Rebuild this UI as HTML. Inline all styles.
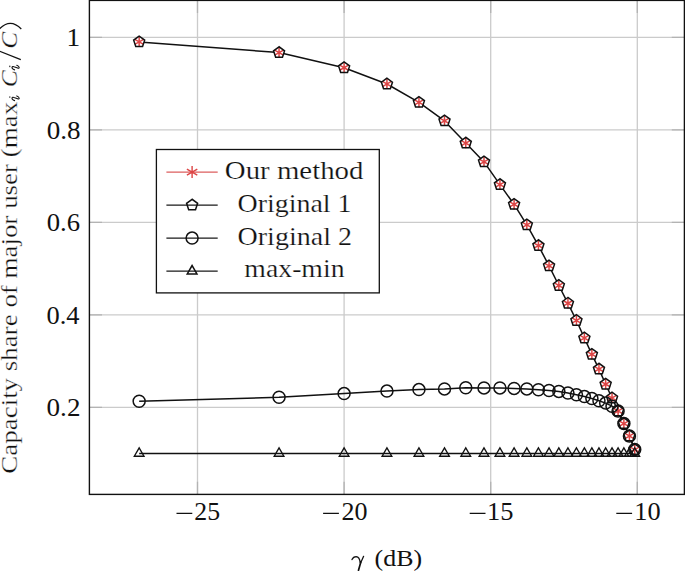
<!DOCTYPE html>
<html><head><meta charset="utf-8"><style>
html,body{margin:0;padding:0;background:#fff;width:685px;height:571px;overflow:hidden}
svg{display:block;font-family:"Liberation Serif",serif}
</style></head><body>
<svg width="685" height="571" viewBox="0 0 685 571">
<rect x="0" y="0" width="685" height="571" fill="#fff"/>
<path d="M197.50,0.4V494.4M344.10,0.4V494.4M490.70,0.4V494.4M637.30,0.4V494.4M89.4,407.40H684.4M89.4,314.90H684.4M89.4,222.40H684.4M89.4,129.90H684.4M89.4,37.40H684.4" stroke="#cbcbcb" stroke-width="1.3" fill="none"/>
<path d="M197.50,494.4v-12.6M197.50,0.4v12.6M344.10,494.4v-12.6M344.10,0.4v12.6M490.70,494.4v-12.6M490.70,0.4v12.6M637.30,494.4v-12.6M637.30,0.4v12.6M89.4,407.40h12.6M684.4,407.40h-12.6M89.4,314.90h12.6M684.4,314.90h-12.6M89.4,222.40h12.6M684.4,222.40h-12.6M89.4,129.90h12.6M684.4,129.90h-12.6M89.4,37.40h12.6M684.4,37.40h-12.6" stroke="#b3b3b3" stroke-width="1.3" fill="none"/>
<polyline points="139.16,41.90 279.05,52.60 344.10,67.70 386.94,84.00 418.95,102.40 444.50,120.90 465.77,143.10 483.99,161.90 499.93,184.60 514.09,204.40 526.84,224.90 538.42,245.60 549.04,265.90 558.84,285.50 567.94,303.30 576.43,320.50 584.39,338.00 591.88,354.40 598.96,369.10 605.66,384.20 612.03,398.00 618.09,411.00 623.88,423.60 629.42,436.00 634.73,449.60" fill="none" stroke="#111" stroke-width="1.5" stroke-linejoin="round"/>
<polyline points="139.16,401.30 279.05,397.30 344.10,393.60 386.94,391.10 418.95,389.60 444.50,388.90 465.77,387.70 483.99,387.90 499.93,387.90 514.09,388.40 526.84,388.90 538.42,389.70 549.04,390.50 558.84,391.40 567.94,393.00 576.43,394.70 584.39,396.60 591.88,398.50 598.96,400.70 605.66,403.10 612.03,406.20 618.09,411.00 623.88,423.60 629.42,436.00 634.73,449.60" fill="none" stroke="#111" stroke-width="1.5" stroke-linejoin="round"/>
<polyline points="139.16,453.40 279.05,453.40 344.10,453.40 386.94,453.40 418.95,453.40 444.50,453.40 465.77,453.40 483.99,453.40 499.93,453.40 514.09,453.40 526.84,453.40 538.42,453.40 549.04,453.40 558.84,453.40 567.94,453.40 576.43,453.40 584.39,453.40 591.88,453.40 598.96,453.40 605.66,453.40 612.03,453.40 618.09,453.40 623.88,453.40 629.42,453.40 634.73,453.40" fill="none" stroke="#111" stroke-width="1.5" stroke-linejoin="round"/>
<g fill="#fff" stroke="none"><polygon points="139.16,36.10 133.65,40.11 135.75,46.59 142.57,46.59 144.68,40.11"/><polygon points="279.05,46.80 273.54,50.81 275.64,57.29 282.46,57.29 284.57,50.81"/><polygon points="344.10,61.90 338.58,65.91 340.69,72.39 347.51,72.39 349.62,65.91"/><polygon points="386.94,78.20 381.43,82.21 383.54,88.69 390.35,88.69 392.46,82.21"/><polygon points="418.95,96.60 413.43,100.61 415.54,107.09 422.36,107.09 424.46,100.61"/><polygon points="444.50,115.10 438.98,119.11 441.09,125.59 447.91,125.59 450.01,119.11"/><polygon points="465.77,137.30 460.25,141.31 462.36,147.79 469.18,147.79 471.29,141.31"/><polygon points="483.99,156.10 478.48,160.11 480.58,166.59 487.40,166.59 489.51,160.11"/><polygon points="499.93,178.80 494.41,182.81 496.52,189.29 503.34,189.29 505.45,182.81"/><polygon points="514.09,198.60 508.58,202.61 510.68,209.09 517.50,209.09 519.61,202.61"/><polygon points="526.84,219.10 521.32,223.11 523.43,229.59 530.25,229.59 532.35,223.11"/><polygon points="538.42,239.80 532.90,243.81 535.01,250.29 541.83,250.29 543.94,243.81"/><polygon points="549.04,260.10 543.52,264.11 545.63,270.59 552.45,270.59 554.55,264.11"/><polygon points="558.84,279.70 553.32,283.71 555.43,290.19 562.25,290.19 564.35,283.71"/><polygon points="567.94,297.50 562.42,301.51 564.53,307.99 571.35,307.99 573.45,301.51"/><polygon points="576.43,314.70 570.91,318.71 573.02,325.19 579.84,325.19 581.95,318.71"/><polygon points="584.39,332.20 578.87,336.21 580.98,342.69 587.80,342.69 589.91,336.21"/><polygon points="591.88,348.60 586.37,352.61 588.47,359.09 595.29,359.09 597.40,352.61"/><polygon points="598.96,363.30 593.44,367.31 595.55,373.79 602.37,373.79 604.47,367.31"/><polygon points="605.66,378.40 600.15,382.41 602.25,388.89 609.07,388.89 611.18,382.41"/><polygon points="612.03,392.20 606.51,396.21 608.62,402.69 615.44,402.69 617.55,396.21"/><polygon points="618.09,405.20 612.58,409.21 614.69,415.69 621.50,415.69 623.61,409.21"/><polygon points="623.88,417.80 618.37,421.81 620.47,428.29 627.29,428.29 629.40,421.81"/><polygon points="629.42,430.20 623.90,434.21 626.01,440.69 632.83,440.69 634.94,434.21"/><polygon points="634.73,443.80 629.21,447.81 631.32,454.29 638.14,454.29 640.24,447.81"/></g>
<path d="M139.16,47.00L139.16,36.80M134.75,44.45L143.58,39.35M143.58,44.45L134.75,39.35M279.05,57.70L279.05,47.50M274.64,55.15L283.47,50.05M283.47,55.15L274.64,50.05M344.10,72.80L344.10,62.60M339.68,70.25L348.52,65.15M348.52,70.25L339.68,65.15M386.94,89.10L386.94,78.90M382.53,86.55L391.36,81.45M391.36,86.55L382.53,81.45M418.95,107.50L418.95,97.30M414.53,104.95L423.36,99.85M423.36,104.95L414.53,99.85M444.50,126.00L444.50,115.80M440.08,123.45L448.92,118.35M448.92,123.45L440.08,118.35M465.77,148.20L465.77,138.00M461.35,145.65L470.19,140.55M470.19,145.65L461.35,140.55M483.99,167.00L483.99,156.80M479.58,164.45L488.41,159.35M488.41,164.45L479.58,159.35M499.93,189.70L499.93,179.50M495.51,187.15L504.35,182.05M504.35,187.15L495.51,182.05M514.09,209.50L514.09,199.30M509.68,206.95L518.51,201.85M518.51,206.95L509.68,201.85M526.84,230.00L526.84,219.80M522.42,227.45L531.25,222.35M531.25,227.45L522.42,222.35M538.42,250.70L538.42,240.50M534.00,248.15L542.84,243.05M542.84,248.15L534.00,243.05M549.04,271.00L549.04,260.80M544.62,268.45L553.45,263.35M553.45,268.45L544.62,263.35M558.84,290.60L558.84,280.40M554.42,288.05L563.25,282.95M563.25,288.05L554.42,282.95M567.94,308.40L567.94,298.20M563.52,305.85L572.35,300.75M572.35,305.85L563.52,300.75M576.43,325.60L576.43,315.40M572.01,323.05L580.85,317.95M580.85,323.05L572.01,317.95M584.39,343.10L584.39,332.90M579.97,340.55L588.81,335.45M588.81,340.55L579.97,335.45M591.88,359.50L591.88,349.30M587.47,356.95L596.30,351.85M596.30,356.95L587.47,351.85M598.96,374.20L598.96,364.00M594.54,371.65L603.38,366.55M603.38,371.65L594.54,366.55M605.66,389.30L605.66,379.10M601.25,386.75L610.08,381.65M610.08,386.75L601.25,381.65M612.03,403.10L612.03,392.90M607.61,400.55L616.45,395.45M616.45,400.55L607.61,395.45M618.09,416.10L618.09,405.90M613.68,413.55L622.51,408.45M622.51,413.55L613.68,408.45M623.88,428.70L623.88,418.50M619.47,426.15L628.30,421.05M628.30,426.15L619.47,421.05M629.42,441.10L629.42,430.90M625.00,438.55L633.84,433.45M633.84,438.55L625.00,433.45M634.73,454.70L634.73,444.50M630.31,452.15L639.14,447.05M639.14,452.15L630.31,447.05" stroke="#dd4545" stroke-width="1.5" fill="none"/>
<g stroke="#111" stroke-width="1.5" fill="none"><polygon points="139.16,36.10 133.65,40.11 135.75,46.59 142.57,46.59 144.68,40.11"/><polygon points="279.05,46.80 273.54,50.81 275.64,57.29 282.46,57.29 284.57,50.81"/><polygon points="344.10,61.90 338.58,65.91 340.69,72.39 347.51,72.39 349.62,65.91"/><polygon points="386.94,78.20 381.43,82.21 383.54,88.69 390.35,88.69 392.46,82.21"/><polygon points="418.95,96.60 413.43,100.61 415.54,107.09 422.36,107.09 424.46,100.61"/><polygon points="444.50,115.10 438.98,119.11 441.09,125.59 447.91,125.59 450.01,119.11"/><polygon points="465.77,137.30 460.25,141.31 462.36,147.79 469.18,147.79 471.29,141.31"/><polygon points="483.99,156.10 478.48,160.11 480.58,166.59 487.40,166.59 489.51,160.11"/><polygon points="499.93,178.80 494.41,182.81 496.52,189.29 503.34,189.29 505.45,182.81"/><polygon points="514.09,198.60 508.58,202.61 510.68,209.09 517.50,209.09 519.61,202.61"/><polygon points="526.84,219.10 521.32,223.11 523.43,229.59 530.25,229.59 532.35,223.11"/><polygon points="538.42,239.80 532.90,243.81 535.01,250.29 541.83,250.29 543.94,243.81"/><polygon points="549.04,260.10 543.52,264.11 545.63,270.59 552.45,270.59 554.55,264.11"/><polygon points="558.84,279.70 553.32,283.71 555.43,290.19 562.25,290.19 564.35,283.71"/><polygon points="567.94,297.50 562.42,301.51 564.53,307.99 571.35,307.99 573.45,301.51"/><polygon points="576.43,314.70 570.91,318.71 573.02,325.19 579.84,325.19 581.95,318.71"/><polygon points="584.39,332.20 578.87,336.21 580.98,342.69 587.80,342.69 589.91,336.21"/><polygon points="591.88,348.60 586.37,352.61 588.47,359.09 595.29,359.09 597.40,352.61"/><polygon points="598.96,363.30 593.44,367.31 595.55,373.79 602.37,373.79 604.47,367.31"/><polygon points="605.66,378.40 600.15,382.41 602.25,388.89 609.07,388.89 611.18,382.41"/><polygon points="612.03,392.20 606.51,396.21 608.62,402.69 615.44,402.69 617.55,396.21"/><polygon points="618.09,405.20 612.58,409.21 614.69,415.69 621.50,415.69 623.61,409.21"/><polygon points="623.88,417.80 618.37,421.81 620.47,428.29 627.29,428.29 629.40,421.81"/><polygon points="629.42,430.20 623.90,434.21 626.01,440.69 632.83,440.69 634.94,434.21"/><polygon points="634.73,443.80 629.21,447.81 631.32,454.29 638.14,454.29 640.24,447.81"/></g>
<g stroke="#111" stroke-width="1.5" fill="none"><circle cx="139.16" cy="401.30" r="6.0"/><circle cx="279.05" cy="397.30" r="6.0"/><circle cx="344.10" cy="393.60" r="6.0"/><circle cx="386.94" cy="391.10" r="6.0"/><circle cx="418.95" cy="389.60" r="6.0"/><circle cx="444.50" cy="388.90" r="6.0"/><circle cx="465.77" cy="387.70" r="6.0"/><circle cx="483.99" cy="387.90" r="6.0"/><circle cx="499.93" cy="387.90" r="6.0"/><circle cx="514.09" cy="388.40" r="6.0"/><circle cx="526.84" cy="388.90" r="6.0"/><circle cx="538.42" cy="389.70" r="6.0"/><circle cx="549.04" cy="390.50" r="6.0"/><circle cx="558.84" cy="391.40" r="6.0"/><circle cx="567.94" cy="393.00" r="6.0"/><circle cx="576.43" cy="394.70" r="6.0"/><circle cx="584.39" cy="396.60" r="6.0"/><circle cx="591.88" cy="398.50" r="6.0"/><circle cx="598.96" cy="400.70" r="6.0"/><circle cx="605.66" cy="403.10" r="6.0"/><circle cx="612.03" cy="406.20" r="6.0"/><circle cx="618.09" cy="411.00" r="6.0"/><circle cx="623.88" cy="423.60" r="6.0"/><circle cx="629.42" cy="436.00" r="6.0"/><circle cx="634.73" cy="449.60" r="6.0"/></g>
<g stroke="#111" stroke-width="1.35" fill="none"><polygon points="139.16,447.80 134.31,456.20 144.01,456.20"/><polygon points="279.05,447.80 274.20,456.20 283.90,456.20"/><polygon points="344.10,447.80 339.25,456.20 348.95,456.20"/><polygon points="386.94,447.80 382.09,456.20 391.79,456.20"/><polygon points="418.95,447.80 414.10,456.20 423.80,456.20"/><polygon points="444.50,447.80 439.65,456.20 449.35,456.20"/><polygon points="465.77,447.80 460.92,456.20 470.62,456.20"/><polygon points="483.99,447.80 479.14,456.20 488.84,456.20"/><polygon points="499.93,447.80 495.08,456.20 504.78,456.20"/><polygon points="514.09,447.80 509.24,456.20 518.94,456.20"/><polygon points="526.84,447.80 521.99,456.20 531.69,456.20"/><polygon points="538.42,447.80 533.57,456.20 543.27,456.20"/><polygon points="549.04,447.80 544.19,456.20 553.89,456.20"/><polygon points="558.84,447.80 553.99,456.20 563.69,456.20"/><polygon points="567.94,447.80 563.09,456.20 572.79,456.20"/><polygon points="576.43,447.80 571.58,456.20 581.28,456.20"/><polygon points="584.39,447.80 579.54,456.20 589.24,456.20"/><polygon points="591.88,447.80 587.03,456.20 596.73,456.20"/><polygon points="598.96,447.80 594.11,456.20 603.81,456.20"/><polygon points="605.66,447.80 600.81,456.20 610.51,456.20"/><polygon points="612.03,447.80 607.18,456.20 616.88,456.20"/><polygon points="618.09,447.80 613.25,456.20 622.94,456.20"/><polygon points="623.88,447.80 619.03,456.20 628.73,456.20"/><polygon points="629.42,447.80 624.57,456.20 634.27,456.20"/><polygon points="634.73,447.80 629.88,456.20 639.58,456.20"/></g>
<rect x="89.4" y="0.4" width="595.0" height="494.0" fill="none" stroke="#111" stroke-width="1.4"/>
<rect x="156.4" y="149.5" width="222.9" height="143.39999999999998" fill="#fff" stroke="#111" stroke-width="1.3"/>
<path d="M166.4,172.1H217.7" stroke="#dc5e5e" stroke-width="1.35"/>
<path d="M192.10,178.10L192.10,166.10M186.90,175.10L197.30,169.10M197.30,175.10L186.90,169.10" stroke="#dd4545" stroke-width="1.4" fill="none"/>
<path d="M166.4,205.1H217.7M166.4,238.1H217.7M166.4,271.1H217.7" stroke="#1a1a1a" stroke-width="1.3"/>
<g stroke="#111" stroke-width="1.5" fill="none"><polygon points="192.10,199.30 186.58,203.31 188.69,209.79 195.51,209.79 197.62,203.31"/><circle cx="192.10" cy="238.10" r="6.0"/><polygon points="192.10,265.50 187.25,273.90 196.95,273.90"/></g>
<g font-family="Liberation Serif, serif" fill="#111">
<g stroke="#fff" stroke-width="0.2">
<text x="224.89" y="179.0" font-size="25.8" text-anchor="start" textLength="138.53" lengthAdjust="spacingAndGlyphs">Our method</text>
<text x="237.52" y="211.9" font-size="25.8" text-anchor="start" textLength="114.08" lengthAdjust="spacingAndGlyphs">Original 1</text>
<text x="237.52" y="244.9" font-size="25.8" text-anchor="start" textLength="114.49" lengthAdjust="spacingAndGlyphs">Original 2</text>
<text x="244.39" y="277.3" font-size="25.8" text-anchor="start" textLength="100.14" lengthAdjust="spacingAndGlyphs">max-min</text>
</g>
<text x="66.53" y="46.30" font-size="25.8" text-anchor="start" textLength="13.65" lengthAdjust="spacingAndGlyphs">1</text>
<text x="46.68" y="138.80" font-size="25.8" text-anchor="start" textLength="33.78" lengthAdjust="spacingAndGlyphs">0.8</text>
<text x="46.65" y="231.30" font-size="25.8" text-anchor="start" textLength="33.36" lengthAdjust="spacingAndGlyphs">0.6</text>
<text x="46.46" y="323.80" font-size="25.8" text-anchor="start" textLength="33.06" lengthAdjust="spacingAndGlyphs">0.4</text>
<text x="46.55" y="416.30" font-size="25.8" text-anchor="start" textLength="33.90" lengthAdjust="spacingAndGlyphs">0.2</text>
<text x="194.30" y="520.0" font-size="25" text-anchor="start" textLength="25.79" lengthAdjust="spacingAndGlyphs">25</text>
<text x="341.42" y="520.0" font-size="25" text-anchor="start" textLength="26.03" lengthAdjust="spacingAndGlyphs">20</text>
<text x="487.08" y="520.0" font-size="25" text-anchor="start" textLength="26.41" lengthAdjust="spacingAndGlyphs">15</text>
<text x="634.35" y="520.0" font-size="25" text-anchor="start" textLength="26.35" lengthAdjust="spacingAndGlyphs">10</text>
</g>
<path d="M176.50,513.4H192.30M323.10,513.4H338.90M469.70,513.4H485.50M616.30,513.4H632.10" stroke="#111" stroke-width="1.3"/>
<g font-family="Liberation Serif, serif" fill="#111">
<path d="M352.0,559.6C352.8,557.6 354.5,556.6 356.2,556.6C358.5,556.7 359.8,558.6 360.2,562.8M363.6,556.3C362.6,558.6 361.4,561 360.6,563" fill="none" stroke="#111" stroke-width="1.3" stroke-linecap="round"/>
<path d="M360.7,562.6L358.5,570.3" fill="none" stroke="#111" stroke-width="1.7" stroke-linecap="round"/>
<text x="374.60" y="565.5" font-size="23" text-anchor="start" textLength="47.47" lengthAdjust="spacingAndGlyphs">(dB)</text>
<g transform="translate(16.8,472.9) rotate(-90)" stroke="#fff" stroke-width="0.3">
<text x="-0.77" y="0" font-size="23" text-anchor="start" textLength="371.78" lengthAdjust="spacingAndGlyphs">Capacity share of major user (max</text>
<path d="M372.30,-2.20C372.90,-4.20 373.90,-4.90 374.80,-4.80C375.70,-4.70 375.80,-3.80 375.40,-2.80L374.10,0.80C373.70,1.80 374.00,2.40 374.70,2.40C375.70,2.30 376.50,1.20 377.00,0.00" fill="none" stroke="#111" stroke-width="1.1" stroke-linecap="round"/>
<circle cx="375.80" cy="-7.00" r="0.8" fill="#111"/>
<text x="385.57" y="0" font-size="23" text-anchor="start" textLength="17.08" lengthAdjust="spacingAndGlyphs" font-style="italic">C</text>
<path d="M403.00,-2.20C403.60,-4.20 404.60,-4.90 405.50,-4.80C406.40,-4.70 406.50,-3.80 406.10,-2.80L404.80,0.80C404.40,1.80 404.70,2.40 405.40,2.40C406.40,2.30 407.20,1.20 407.70,0.00" fill="none" stroke="#111" stroke-width="1.1" stroke-linecap="round"/>
<circle cx="406.50" cy="-7.00" r="0.8" fill="#111"/>
<text x="424.16" y="0" font-size="23" text-anchor="start" textLength="16.93" lengthAdjust="spacingAndGlyphs" font-style="italic">C</text>
</g>
</g>
<path d="M-0.4,51.1L20.8,59.6" stroke="#111" stroke-width="1.15"/>
<path d="M-0.6,29.0Q10.3,17.6 21.3,29.0" fill="none" stroke="#111" stroke-width="1.25"/>
</svg>
</body></html>
